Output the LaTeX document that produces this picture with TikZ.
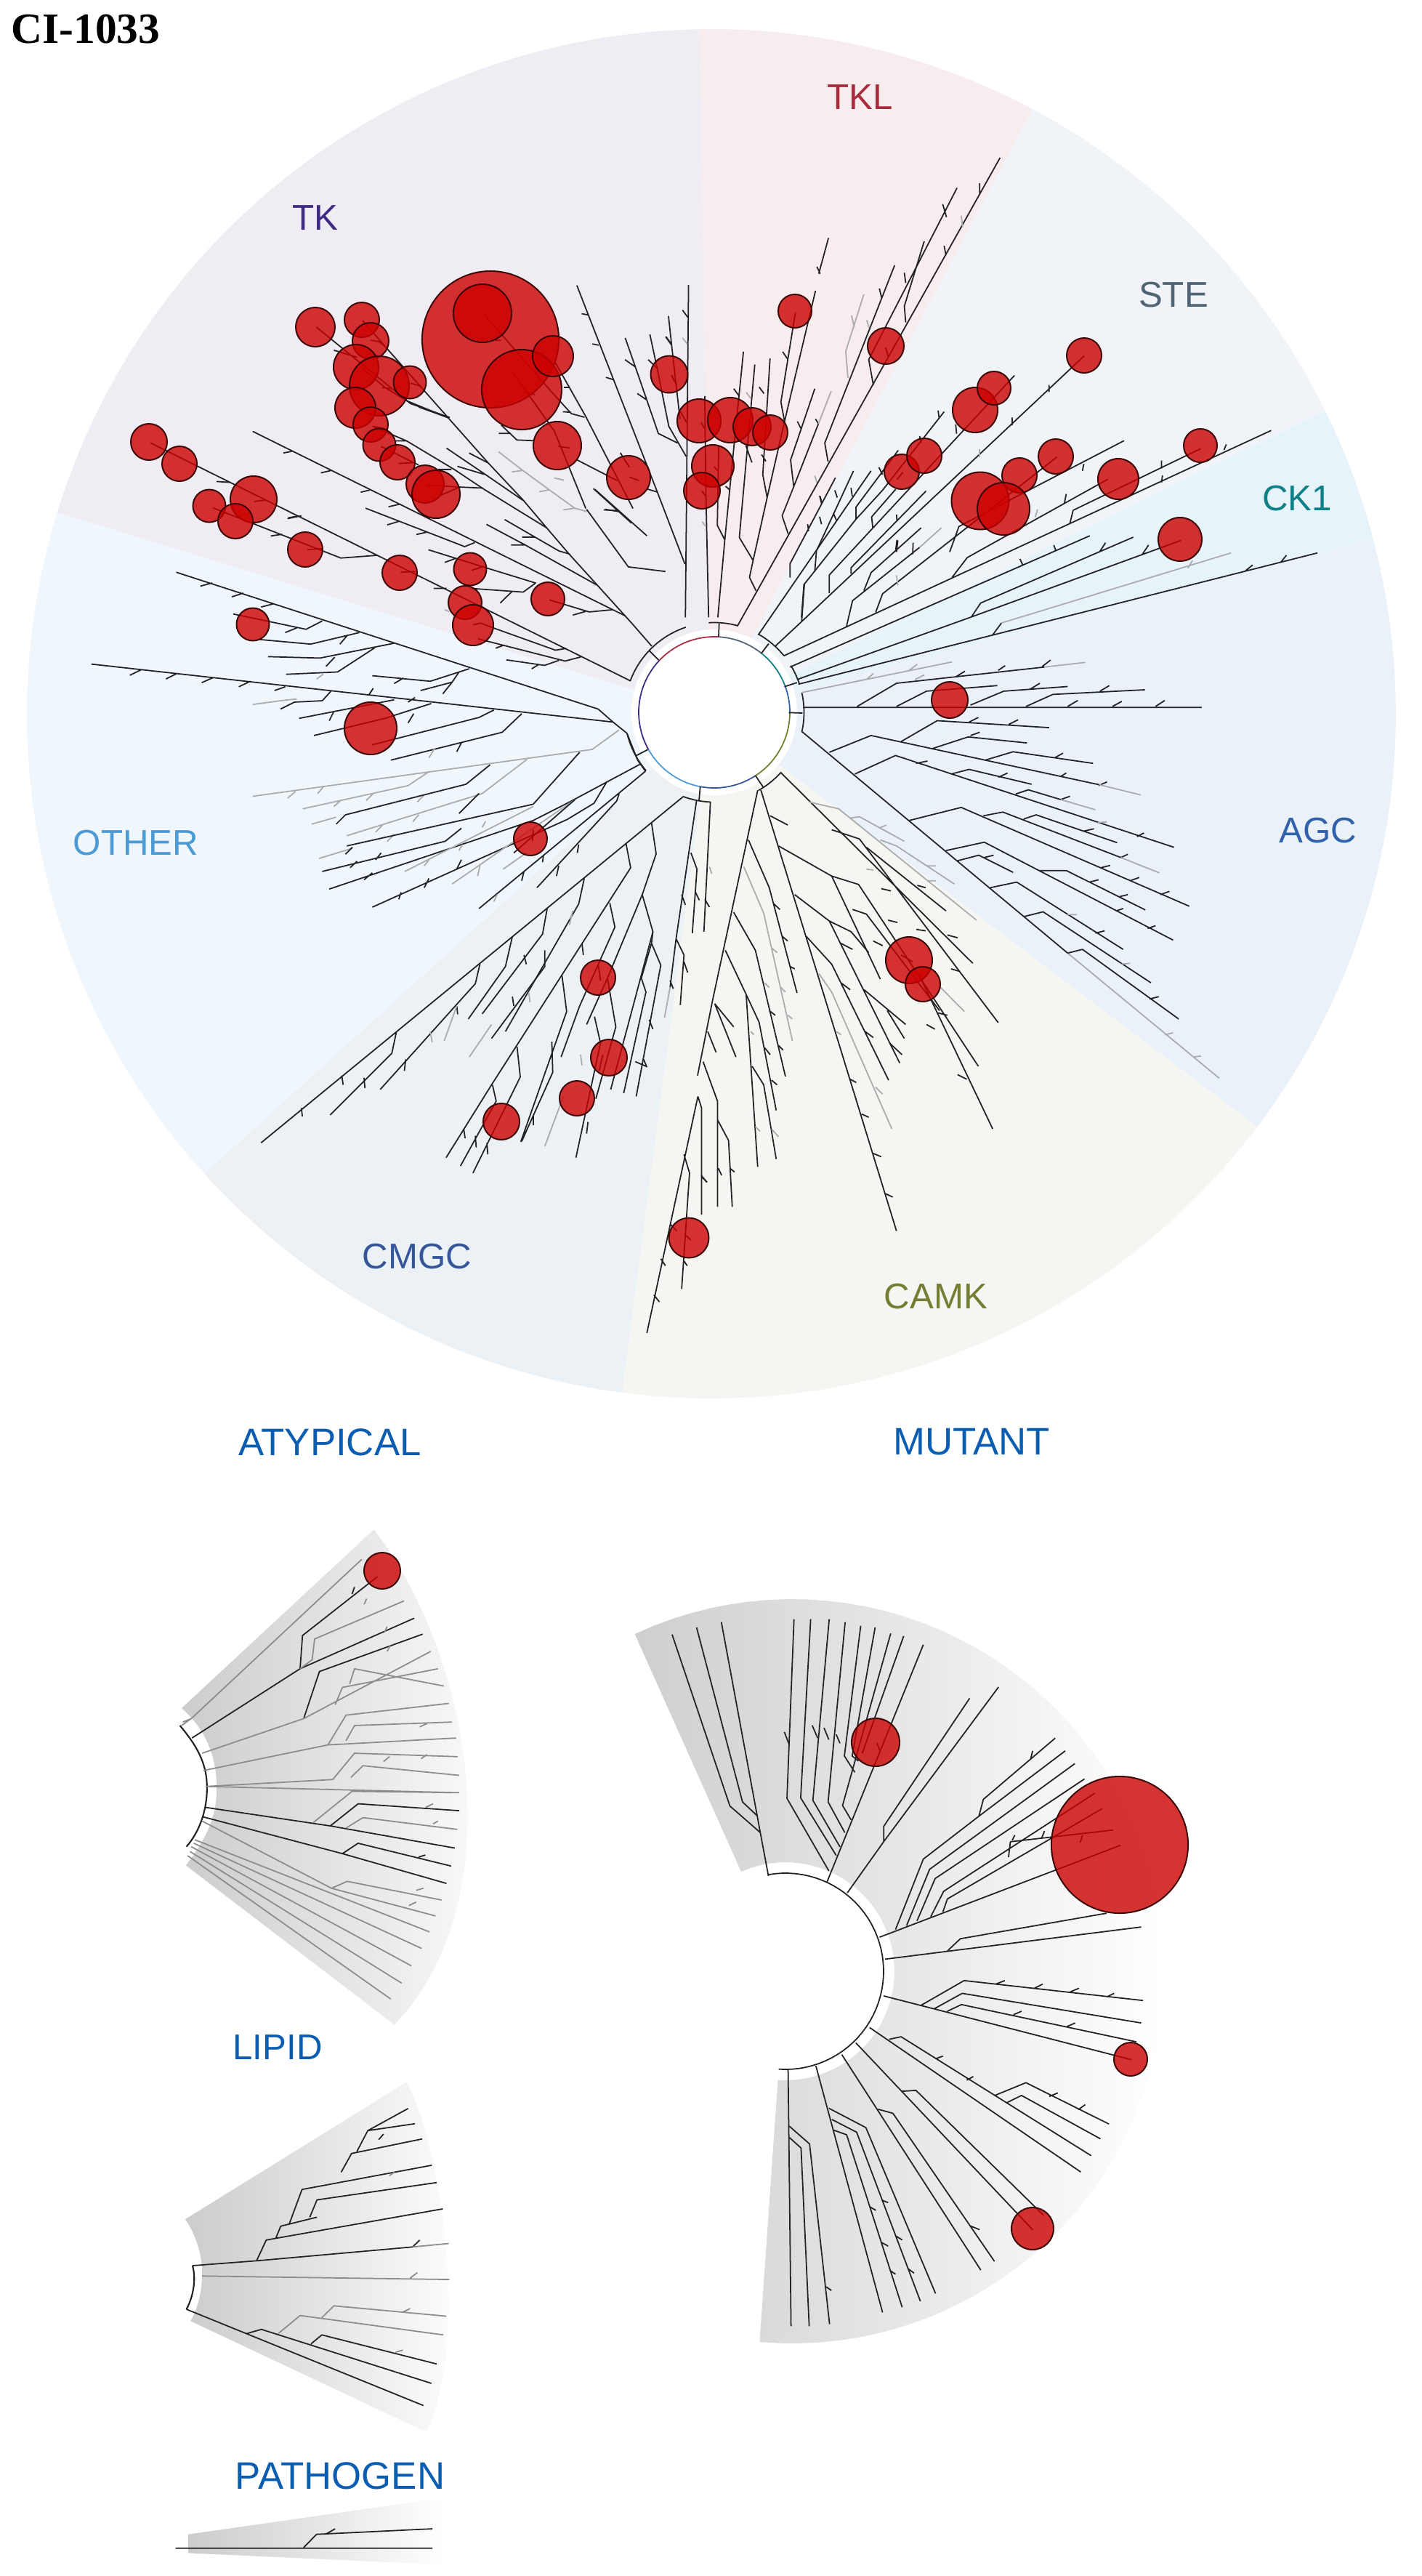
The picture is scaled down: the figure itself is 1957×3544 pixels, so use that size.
\documentclass[tikz,border=0pt]{standalone}
\usepackage{fontspec}
\setmainfont{Liberation Sans}
\newfontfamily\titlefont{Liberation Serif}
\usetikzlibrary{shapes.geometric}
\definecolor{bgtk}{HTML}{EFECF3}
\definecolor{bgtkl}{HTML}{F7ECEE}
\definecolor{bgste}{HTML}{F0F3F7}
\definecolor{bgckone}{HTML}{E6F3F8}
\definecolor{bgagc}{HTML}{EAF1F9}
\definecolor{bgcamk}{HTML}{F5F6F1}
\definecolor{bgcmgc}{HTML}{ECF1F6}
\definecolor{bgother}{HTML}{EFF6FC}
\definecolor{tktext}{HTML}{3F2A84}
\definecolor{tkltext}{HTML}{A82C3B}
\definecolor{stetext}{HTML}{4F6474}
\definecolor{ckonetext}{HTML}{0E8088}
\definecolor{agctext}{HTML}{2F62AB}
\definecolor{camktext}{HTML}{747D32}
\definecolor{cmgctext}{HTML}{35579A}
\definecolor{othertext}{HTML}{4C9BD5}
\definecolor{paneltext}{HTML}{0A5DB0}
\definecolor{ink}{HTML}{222226}
\definecolor{twiggray}{HTML}{ABABAD}
\definecolor{hitred}{HTML}{CC0000}
\definecolor{hitedge}{HTML}{3A0505}
\tikzset{
  brn/.style={draw=ink,line width=.5pt,line join=round},
  brg/.style={draw=twiggray,line width=.5pt,line join=round},
  hit/.style={circle,fill=hitred,fill opacity=.8,draw=hitedge,line width=.55pt,inner sep=0pt},
  fam/.style={font=\fontsize{14}{16}\selectfont,inner sep=0pt},
  pan/.style={font=\fontsize{15}{17}\selectfont,inner sep=0pt,text=paneltext},
  crop/.style n args={4}{shift={(#1,#2)},x=#3cm,y=#4cm},
}
\begin{document}
\begin{tikzpicture}[x=.01cm,y=-.01cm]
  \useasboundingbox (0,0) rectangle (1957,3544);
  \foreach \a/\b/\c in {91/162.9/bgtk,62/91/bgtkl,26.3/62/bgste,14.8/26.3/bgckone,-37.1/14.8/bgagc,-97.5/-37.1/bgcamk,-137.8/-97.5/bgcmgc,162.9/222.2/bgother}
    \fill[\c] (979,982) -- plot[domain=\a:\b,samples=40] ({979+942*cos(\x)},{982-942*sin(\x)}) -- cycle;
  \fill[white] (983,980) circle[radius=114];
  \foreach \a/\b/\c in {136.7/209.6/tktext,86.5/136.7/tkltext,51/86.5/stetext,19.8/51/ckonetext,-.4/19.8/agctext,-56.7/-.4/camktext,-100.3/-56.7/cmgctext,209.6/259.7/othertext}
    \draw[\c,line width=.5pt] plot[domain=\a:\b,samples=24] ({983+104*cos(\x)},{980-104*sin(\x)});
  \foreach \a/\b in {108.5/159.4,74.8/93.5,39.3/60.4,18.2/31.3,-12.5/12.8,-60.5/-41.8,249.5/267.5,193.7/220.5}
    \draw[brn] plot[domain=\a:\b,samples=16] ({983+123.5*cos(\x)},{980-123.5*sin(\x)});
  \begin{scope}[crop={780}{780}{.0033333}{-.0033333}]
    \draw[brn] (340,345)--(380,385) (628,288)--(630,235) (805,357)--(835,317) (900,495)--(952,478)
      (918,602)--(975,604) (780,862)--(812,910) (552,908)--(547,965) (335,755)--(287,780);
  \end{scope}
  \draw[brn] (499,441)--(533,480)--(617,575)--(672,637)--(720,688)--(753,727)--(783,762)--(822,805)--(870,858)--(897,889);
  \begin{scope}[crop={0}{0}{.0063776}{-.0063776}]
    \draw[brn] (325,955)--(1360,1468) (467,1038)--(497,1040) (620,1118)--(650,1112);
    \draw[brn] (460,1095)--(735,1203)--(815,1197);
    \draw[brn] (545,930)--(1349,1328);
    \draw[brn] (682,705)--(885,870)--(970,900);
    \draw[brn] (720,755)--(770,770) (1283,1055)--(1395,1155) (1305,1098)--(1335,1103);
    \draw[brn] (1265,1098)--(1355,1222)--(1435,1232);
  \end{scope}
  \begin{scope}[crop={350}{560}{.0033333}{-.0033333}]
    \draw[brn] (120,190)--(155,183) (275,272)--(315,263) (440,352)--(478,343) (555,412)--(600,402);
    \draw[brn] (460,418)--(870,577)--(912,560) (550,487)--(600,472) (670,527)--(715,517);
    \draw[brn] (140,458)--(185,450) (742,750)--(795,750) (68,533)--(115,526) (220,590)--(280,585) (0,390)--(45,385) (605,683)--(665,680);
    \draw[brn] (720,590)--(960,665)--(1165,728) (900,750)--(1112,765)--(1160,730) (1017,810)--(1065,763) (788,642)--(835,625) (898,675)--(950,658);
    \draw[brn] (905,900)--(935,893)--(980,910)--(1245,1005)--(1290,998) (925,958)--(1285,1050)--(1350,1033) (998,997)--(1030,985);
    \draw[brn] (1042,1045)--(1200,1068)--(1260,1047) (1147,1082)--(1175,1065);
    \draw[brg] (788,838)--(805,845);
    \draw[brn] (1220,797)--(1385,847)--(1480,838) (1317,860)--(1370,845);
    \draw[brn] (490,80)--(630,140)--(830,260)--(950,340)--(1210,500) (585,140)--(630,140) (760,258)--(815,258);
    \draw[brn] (525,163)--(680,240) (597,233)--(660,230) (712,322)--(835,330)--(945,335) (770,365)--(840,335);
    \draw[brn] (795,170)--(950,275)--(1110,385) (840,245)--(950,278) (888,190)--(965,230);
    \draw[brn] (680,0)--(805,45);
    \draw[brn] (1035,465)--(1260,595)--(1305,608) (1108,538)--(1160,538);
    \draw[brn] (960,485)--(1120,570)--(1415,735) (1062,570)--(1120,570);
    \draw[brg] (1010,185)--(1110,262)--(1210,335)--(1325,418)--(1375,432) (1065,268)--(1110,262) (1178,350)--(1220,342) (1240,293)--(1280,302) (1278,425)--(1325,418);
    \draw[brn] (1402,337)--(1560,480) (1445,425)--(1500,428);
  \end{scope}
  \begin{scope}[crop={500}{380}{.0033333}{-.0033333}]
    \draw[brn] (883,38)--(1215,890)--(1330,1190) (903,155)--(930,160) (947,280)--(973,285) (1003,418)--(1035,428);
    \draw[brn] (1083,255)--(1125,375)--(1170,505)--(1220,650)--(1300,690) (1082,345)--(1125,375) (1133,485)--(1170,510);
    \draw[brn] (1185,240)--(1215,380)--(1263,620)--(1335,745);
    \draw[brn] (1262,165)--(1275,285)--(1305,550)--(1310,590) (1250,250)--(1275,285) (1178,345)--(1215,380) (1275,408)--(1290,440);
    \draw[brn] (497,155)--(780,480)--(860,568)--(915,583) (825,560)--(860,563) (545,265)--(570,265) (830,460)--(850,460);
    \draw[brn] (790,350)--(920,580)--(1115,960);
    \draw[brn] (620,400)--(790,640)--(920,960) (660,475)--(710,490) (805,703)--(855,710);
    \draw[brn] (570,615)--(635,677)--(705,680) (560,650)--(610,650);
    \draw[brn] (885,760)--(1050,845) (1100,830)--(1140,845) (1175,880)--(1215,892) (1063,730)--(1100,790);
    \draw[brn] (180,515)--(350,585) (0,385)--(90,460)--(180,515) (78,460)--(120,465) (196,442)--(240,455);
    \draw[brn] (30,265)--(65,270)--(90,290) (38,620)--(90,630);
  \end{scope}
  \begin{scope}[crop={900}{400}{.0033333}{-.0033333}]
    \draw[brn] (143,-24)--(130,1350) (118,80)--(140,110) (50,190)--(72,220) (72,350)--(95,390);
    \draw[brg] (118,195)--(138,220);
    \draw[brn] (226,1350)--(215,850)--(210,435) (195,545)--(210,570) (110,500)--(135,545);
    \draw[brg] (200,955)--(215,975);
    \draw[brn] (264,1350)--(293,1030)--(333,620)--(370,252) (293,1030)--(262,970)--(268,640) (248,727)--(265,745) (296,808)--(315,825) (330,405)--(352,435) (198,828)--(215,850);
    \draw[brg] (382,420)--(400,445);
    \draw[brn] (395,1185)--(422,1240) (395,1185)--(410,1115)--(468,855)--(540,540)--(668,0);
    \draw[brn] (468,855)--(450,760)--(480,280) (435,398)--(455,425) (445,677)--(463,705);
    \draw[brn] (540,540)--(525,460)--(585,90) (532,252)--(553,283);
    \draw[brn] (353,1020)--(410,1115) (353,1020)--(417,305) (380,640)--(405,710);
    \draw[brn] (555,1005)--(530,930)--(578,810)--(680,550) (578,810)--(565,700)--(665,405) (593,540)--(608,570) (668,530)--(680,550);
    \draw[brg] (680,550)--(733,415) (665,765)--(675,795);
    \draw[brg] (802,360)--(793,250)--(825,150)--(868,15) (817,103)--(828,150) (880,122)--(890,155);
    \draw[brn] (958,235)--(968,270);
    \draw[brn] (610,1350)--(620,1215)--(835,945)--(945,825)--(1200,500);
    \draw[brn] (835,945)--(835,895)--(1010,660) (930,730)--(945,760);
    \draw[brn] (905,980)--(900,935)--(1000,820) (1005,780)--(1030,750);
    \draw[brn] (825,745)--(672,1075)--(665,1160) (685,848)--(693,880) (685,935)--(693,965) (748,825)--(758,855) (815,815)--(820,850) (742,920)--(755,950);
    \draw[brn] (725,1250)--(725,1175)--(1491,350) (815,1170)--(815,1145)--(1125,828) (1003,925)--(1005,950);
    \draw[brn] (868,1240)--(898,1165)--(1105,980) (1005,1030)--(1000,1070);
  \end{scope}
  \begin{scope}[crop={960}{0}{.0063585}{-.0063776}]
    \draw[brn] (283,513)--(262,590) (258,575)--(265,590);
    \draw[brn] (86,1350)--(654,340) (610,395)--(610,420) (533,530)--(537,550);
    \draw[brg] (570,465)--(573,490);
    \draw[brn] (282,995)--(275,955)--(426,572) (393,622)--(398,642);
    \draw[brn] (380,830)--(370,775)--(561,405) (530,440)--(538,468);
    \draw[brn] (450,695)--(447,660)--(490,520) (447,588)--(450,610);
    \draw[brn] (131,1369)--(375,1015) (200,1245)--(200,1215)--(298,1030) (238,1130)--(240,1145) (265,1070)--(268,1082);
    \draw[brn] (168,1393)--(225,1340)--(231,1259) (225,1340)--(836,767) (760,830)--(760,845) (680,900)--(680,917);
    \draw[brg] (610,968)--(610,985);
    \draw[brn] (520,885)--(522,900) (480,940)--(483,955) (558,915)--(560,935);
    \draw[brn] (186,1414)--(1240,928) (322,1350)--(335,1295)--(480,1180);
    \draw[brg] (480,1180)--(527,1138);
    \draw[brn] (466,1170)--(465,1195) (430,1190)--(433,1165);
    \draw[brn] (385,1320)--(400,1280)--(777,985) (545,1190)--(565,1135)--(922,950);
    \draw[brg] (430,1240)--(433,1262);
    \draw[brn] (550,1245)--(583,1202)--(887,1033) (797,1065)--(793,1085) (835,1000)--(832,1015);
    \draw[brg] (735,1098)--(730,1115);
    \draw[brn] (805,1128)--(812,1100)--(1088,967) (1003,1040)--(1005,1025) (1003,1010)--(1003,993) (1138,970)--(1143,958);
    \draw[brn] (200,1438)--(848,1155) (697,1205)--(703,1218) (770,1175)--(775,1188);
    \draw[brn] (215,1465)--(592,1330)--(612,1300)--(942,1158) (592,1330)--(1045,1165) (870,1188)--(882,1170) (960,1197)--(975,1175);
    \draw[brn] (218,1475)--(1340,1192) (637,1370)--(657,1343) (1185,1230)--(1200,1218) (1260,1213)--(1273,1197);
    \draw[brg] (657,1343)--(1153,1192) (1060,1225)--(1070,1208);
    \draw[brg] (225,1493)--(550,1427) (365,1465)--(380,1452) (455,1447)--(475,1432);
    \draw[brn] (228,1525)--(1090,1525) (345,1523)--(430,1473)--(750,1438) (560,1458)--(578,1447) (650,1445)--(665,1435) (745,1437)--(763,1423);
    \draw[brg] (750,1438)--(838,1428) (470,1465)--(490,1455);
    \draw[brn] (430,1523)--(495,1490)--(648,1478) (590,1520)--(662,1490)--(800,1480) (720,1485)--(740,1473);
    \draw[brn] (710,1523)--(768,1497)--(967,1487) (870,1490)--(890,1478) (800,1523)--(822,1510) (897,1523)--(917,1512) (990,1523)--(1010,1510);
  \end{scope}
  \begin{scope}[crop={960}{950}{.0063585}{-.0063776}]
    \draw[brn] (225,88)--(800,566);
    \draw[brg] (800,566)--(1128,836) (1010,742)--(1028,738) (1072,790)--(1088,788);
    \draw[brn] (285,133)--(375,97)--(868,203) (785,185)--(797,178) (867,205)--(885,197);
    \draw[brg] (868,203)--(958,225);
    \draw[brn] (440,110)--(518,65)--(760,80) (587,68)--(607,58) (673,73)--(693,63);
    \draw[brn] (508,125)--(585,100)--(712,113) (590,97)--(610,90) (622,150)--(682,132)--(855,157) (772,145)--(790,135);
    \draw[brn] (340,180)--(428,140)--(1030,338) (472,157)--(497,152) (950,315)--(965,307);
    \draw[brn] (548,180)--(587,170)--(722,202) (650,187)--(670,178) (688,223)--(715,214)--(785,235) (785,235)--(805,228);
    \draw[brg] (785,235)--(860,257) (865,285)--(885,283);
    \draw[brn] (458,280)--(570,252)--(1063,465) (872,382)--(892,377) (935,410)--(955,403) (1000,440)--(1020,433);
    \draw[brn] (618,270)--(660,262)--(915,360) (915,360)--(930,353) (705,277)--(732,268)--(907,328) (835,303)--(857,298);
    \draw[brg] (915,360)--(998,393);
    \draw[brn] (537,345)--(620,327)--(1028,538) (905,475)--(920,470) (973,513)--(990,507);
    \draw[brn] (562,367)--(608,355)--(682,392) (620,360)--(640,355) (740,388)--(797,388)--(968,473) (847,413)--(867,408) (910,445)--(930,440);
    \draw[brn] (633,425)--(690,413)--(920,558) (860,523)--(880,518) (707,487)--(747,477)--(980,630) (800,566)--(832,558)--(1040,708) (977,665)--(997,660);
    \draw[brg] (800,483)--(820,483) (915,590)--(935,588);
    \draw[brn] (180,177)--(595,588) (290,300)--(350,320)--(650,716) (412,495)--(432,500) (473,515)--(493,518) (540,527)--(562,533);
    \draw[brn] (365,338)--(537,475) (397,427)--(418,432) (475,420)--(493,425) (548,600)--(565,605);
    \draw[brg] (240,240)--(305,255)--(603,495) (330,275)--(350,272)--(447,325) (395,322)--(430,335)--(555,417) (392,297)--(408,290) (495,378)--(515,378) (497,410)--(515,410) (365,385)--(380,387);
    \draw[brn] (137,215)--(430,1165) (380,998)--(397,1005) (407,1085)--(422,1092) (355,913)--(370,920) (330,838)--(343,845);
    \draw[brn] (157,270)--(195,290) (175,335)--(290,400)--(395,622) (290,400)--(348,418)--(607,810) (335,472)--(365,482)--(523,690) (520,695)--(540,700) (495,720)--(513,730);
    \draw[brn] (480,615)--(638,945) (562,828)--(582,838) (380,540)--(400,550) (440,570)--(465,585);
    \draw[brg] (525,640)--(577,692);
    \draw[brn] (210,440)--(285,497)--(437,803) (285,497)--(332,520)--(370,565) (310,545)--(335,558) (360,645)--(450,720) (410,690)--(447,750);
    \draw[brn] (235,530)--(290,590)--(413,840) (310,630)--(330,645) (362,735)--(380,748) (415,760)--(442,785);
    \draw[brg] (262,610)--(290,650)--(420,945) (300,735)--(310,742) (385,855)--(400,870);
    \draw[brn] (130,215)--(32,670)--(0,830) (110,322)--(155,425)--(215,652) (165,460)--(178,472) (183,530)--(195,540) (200,595)--(210,600);
    \draw[brg] (100,380)--(143,480)--(205,755) (160,555)--(172,565) (145,630)--(155,640) (180,640)--(190,650) (195,700)--(205,708);
    \draw[brn] (78,478)--(125,560)--(190,832) (155,690)--(168,700) (175,765)--(185,775);
    \draw[brn] (60,560)--(105,655)--(133,715)--(170,905) (105,655)--(130,1027) (145,770)--(157,785) (160,840)--(172,850) (118,810)--(143,850)--(170,1010);
    \draw[brg] (115,735)--(122,742) (125,940)--(135,950) (160,945)--(175,962);
    \draw[brn] (37,675)--(78,725) (22,735)--(40,780) (37,675)--(83,790) (12,800)--(43,885)--(43,1113) (43,925)--(67,970)--(75,1113) (45,1030)--(52,1045) (70,1030)--(80,1038);
    \draw[brn] (8,1045)--(20,1060);
  \end{scope}
  \begin{scope}[crop={0}{950}{.0063776}{-.0063776}]
    \draw[brn] (1505,875)--(1395,1385) (1505,875)--(1513,900)--(1513,1130) (1475,1000)--(1487,1040)--(1470,1290) (1515,1050)--(1525,1060) (1445,1150)--(1460,1165) (1480,1175)--(1490,1185) (1475,1230)--(1482,1240) (1425,1225)--(1435,1240) (1410,1303)--(1422,1318);
    \draw[brn] (1473,229)--(563,975) (650,900)--(652,918) (737,830)--(740,850) (855,735)--(845,782)--(712,915) (785,835)--(787,857);
    \draw[brn] (1350,330)--(1360,382)--(1060,850)--(962,1007) (1260,405)--(1248,460)--(1090,735) (1180,470)--(1170,525)--(1040,697) (1105,530)--(1090,595)--(1010,708) (1035,590)--(1025,632)--(820,860);
    \draw[brn] (1255,545)--(1258,570) (1175,560)--(1175,595)--(1060,750) (1130,570)--(1135,590) (1105,660)--(1108,680) (985,680)--(987,698) (875,795)--(872,820);
    \draw[brg] (985,680)--(958,755) (1060,720)--(1012,790) (1235,475)--(1228,505) (1140,650)--(1143,672) (928,735)--(932,758);
    \draw[brn] (1405,285)--(1415,352)--(1385,440)--(1408,520)--(1360,700)--(1317,860);
    \draw[brn] (1408,520)--(1405,545)--(1425,592)--(1372,875) (1405,545)--(1383,620)--(1393,650)--(1345,868) (1385,440)--(1310,620)--(1265,720);
    \draw[brn] (1282,703)--(1295,760)--(1242,1007) (1310,620)--(1328,725)--(1285,880) (1370,800)--(1393,810) (1400,710)--(1408,730) (1388,795)--(1395,812) (1268,930)--(1265,955);
    \draw[brn] (1315,458)--(1326,510)--(1250,680)--(1210,790) (1290,590)--(1295,625) (1300,785)--(1292,820);
    \draw[brn] (1212,615)--(1222,692)--(1123,973) (1190,757)--(1192,823)--(1125,972) (1115,768)--(1122,833)--(1020,1040) (1062,850)--(1070,885)--(993,1025) (1150,915)--(1150,937) (1000,945)--(1003,965) (1025,960)--(1027,985) (1050,975)--(1052,1000);
    \draw[brg] (1215,875)--(1175,982) (1252,785)--(1255,808);
    \draw[brn] (1502,238)--(1458,535) (1458,535)--(1445,640) (1490,350)--(1503,385)--(1493,523) (1532,240)--(1518,520) (1458,535)--(1475,570)--(1467,678) (1470,440)--(1478,462) (1500,435)--(1508,452) (1520,450)--(1530,467) (1475,585)--(1483,608) (1445,625)--(1452,643);
    \draw[brg] (1445,640)--(1433,705) (1530,380)--(1535,395);
    \draw[brn] (1352,92)--(1322,68)--(1290,40)--(380,-255) (432,-225)--(458,-232) (500,-202)--(525,-210) (563,-180)--(590,-187);
    \draw[brn] (503,-165)--(660,-132)--(695,-150) (615,-125)--(640,-135) (560,-110)--(670,-100)--(775,-125) (733,-100)--(750,-120);
    \draw[brn] (578,-73)--(690,-70)--(850,-102) (703,-52)--(722,-72) (617,-35)--(728,-40)--(808,-92);
    \draw[brg] (683,-25)--(697,-35);
    \draw[brn] (803,-32)--(928,-20)--(1012,-47) (850,-15)--(870,-27) (907,0)--(975,-18)--(990,-40) (955,7)--(975,-18);
    \draw[brn] (1352,92)--(1375,150)--(1392,174) (1322,68)--(197,-57) (280,-33)--(305,-45) (358,-25)--(382,-37) (435,-17)--(460,-28) (515,-8)--(540,-20) (592,0)--(615,-8) (695,22)--(715,0) (795,10)--(805,-5) (880,25)--(895,15);
    \draw[brg] (545,30)--(605,22)--(640,18);
    \draw[brn] (605,40)--(635,25)--(695,22) (645,60)--(850,20) (677,97)--(830,60)--(930,28) (710,65)--(720,45) (880,70)--(892,50) (803,117)--(1033,58)--(1065,42) (843,150)--(1083,90)--(1125,50) (985,132)--(995,113);
    \draw[brg] (925,145)--(937,125);
    \draw[brg] (1335,85)--(1277,127)--(545,228) (620,232)--(637,218) (685,222)--(697,208) (653,255)--(880,205)--(925,175) (720,250)--(735,237) (790,237)--(805,222);
    \draw[brg] (672,288)--(725,273) (748,313)--(1040,222)--(1137,148) (810,305)--(825,290) (890,283)--(903,268) (900,240)--(915,225) (688,362)--(760,340) (835,325)--(850,310);
    \draw[brn] (725,288)--(745,268)--(1005,202)--(1057,160) (1250,133)--(1150,245)--(748,335) (745,353)--(760,338) (695,390)--(960,325)--(995,297) (755,382)--(770,368) (810,365)--(822,350) (990,265)--(1033,222);
    \draw[brn] (1382,158)--(1223,243)--(1150,280)--(710,428) (785,408)--(803,393) (1309,196)--(1281,243)--(1223,278)--(803,467) (860,450)--(865,435) (915,425)--(925,405) (985,385)--(995,365);
    \draw[brg] (873,390)--(1150,250) (915,378)--(925,365) (990,345)--(997,332) (1040,295)--(1047,282) (975,417)--(1145,300)--(1240,235) (1030,400)--(1035,378) (1085,385)--(1135,350);
    \draw[brn] (1108,350)--(1240,235) (1148,325)--(1150,300) (1392,174)--(1033,470) (1125,410)--(1130,390) (1170,370)--(1172,355) (1335,223)--(1330,238)--(1158,425) (1200,400)--(1205,378) (1245,350)--(1248,332);
    \draw[brg] (1065,455)--(1072,440);
  \end{scope}
  \begin{scope}[crop={200}{2050}{.0033333}{-.0095281}]
    \shade[left color=black!20,right color=white] (150,315)--(945,57) .. controls (1350,240) and (1528,590) .. (1030,772)--(168,542) .. controls (260,500) and (295,470) .. (295,430) .. controls (295,385) and (250,345) .. (150,315)--cycle;
    \draw[brn,line width=.6pt] (143,340) .. controls (215,370) and (255,395) .. (255,430) .. controls (255,465) and (220,495) .. (170,515);
    \draw[brg,draw=black!45] (155,335)--(190,330)--(895,100) (150,340)--(190,330);
    \draw[brn] (193,358)--(640,258)--(650,210)--(960,125) (855,150)--(865,140) (640,258)--(1112,185) (655,330)--(720,262)--(1147,208);
    \draw[brg,draw=black!45] (690,245)--(700,215)--(1070,160) (905,165)--(915,157) (640,258)--(690,245) (990,205)--(1000,197) (1000,233)--(1012,225);
    \draw[brg,draw=black!45] (235,380)--(655,330)--(1180,233) (785,310)--(815,285)--(1210,258) (845,280)--(865,258)--(1235,283) (755,368)--(830,325)--(1255,308) (830,362)--(865,340)--(1268,335) (1135,342)--(1165,337);
    \draw[brg,draw=black!45] (240,405)--(755,368)--(1285,358) (250,428)--(775,418)--(865,380)--(1292,385) (850,415)--(900,398)--(1298,412) (985,392)--(1010,385) (1140,388)--(1165,382);
    \draw[brg,draw=black!45] (255,428)--(1298,437) (695,480)--(855,435)--(1298,437);
    \draw[brn] (245,458)--(765,485)--(880,453)--(1298,463) (765,485)--(1280,517) (1130,530)--(1158,527) (240,472)--(815,525)--(880,510)--(1265,543) (815,525)--(1245,568);
    \draw[brg,draw=black!45] (1160,458)--(1190,453) (830,488)--(900,473)--(1290,490) (1190,482)--(1210,478);
    \draw[brg,draw=black!45] (235,478)--(770,575)--(835,565)--(1225,592) (1120,578)--(1150,575) (770,575)--(1200,615) (1090,600)--(1120,595) (205,505)--(1175,638) (200,510)--(1143,662) (190,515)--(1100,687) (185,522)--(1060,712) (175,528)--(1015,735);
    \shade[left color=black!20,right color=white] (165,1053)--(1080,855) .. controls (1230,950) and (1340,1240) .. (1160,1360)--(187,1200) .. controls (220,1180) and (235,1155) .. (235,1130) .. controls (235,1100) and (200,1070) .. (165,1053)--cycle;
    \draw[brn,line width=.6pt] (195,1120) .. controls (208,1135) and (205,1160) .. (170,1183);
    \draw[brn] (195,1120)--(460,1113)--(1105,1093)--(1135,1083) (460,1113)--(500,1083)--(1230,1038) (540,1080)--(560,1063)--(710,1050) (595,1060)--(648,1010)--(1185,975) (680,1050)--(710,1025)--(1205,1000) (810,985)--(853,958)--(1145,937) (875,955)--(920,925)--(1115,915) (920,925)--(1087,893) (965,938)--(985,930);
    \draw[brg,draw=black!45] (1105,1093)--(1255,1088) (235,1135)--(1257,1140) (1095,1138)--(1125,1130) (1010,990)--(1030,985);
    \draw[brn] (170,1183)--(1150,1322) (420,1218)--(480,1212)--(1183,1290) (685,1233)--(730,1220)--(1205,1262);
    \draw[brg,draw=black!45] (550,1218)--(640,1192)--(1232,1220) (730,1195)--(780,1178)--(1245,1193) (1065,1187)--(1095,1182) (1035,1245)--(1065,1242);
    \shade[left color=black!20,right color=white] (178,1508)--(1240,1455)--(1240,1552)--(178,1535)--cycle;
    \draw[brn] (125,1528)--(1187,1528) (655,1527)--(708,1508)--(1187,1500) (750,1507)--(785,1500);
  \end{scope}
  \shade[left color=black!19,right color=white] plot[domain=-95:115,samples=70] ({1090+512*cos(\x)},{2712-512*sin(\x)}) -- plot[domain=114:-94,samples=40] ({1081+150*cos(\x)},{2712-150*sin(\x)}) -- cycle;
  \draw[brn] plot[domain=-94:100,samples=50] ({1081+135*cos(\x)},{2712-135*sin(\x)});
  \begin{scope}[crop={850}{2170}{.0051020}{-.0070153}]
    \draw[brn] (407,585)--(385,500)--(280,88) (385,500)--(303,448)--(147,112) (378,468)--(337,440)--(213,98);
    \draw[brn] (565,597)--(825,132) (570,575)--(457,433)--(476,82) (590,545)--(494,432)--(521,82) (600,528)--(527,437)--(571,82) (613,500)--(568,440)--(614,88) (630,475)--(607,447)--(737,110) (640,382)--(612,350)--(656,95) (650,360)--(633,350)--(695,98) (660,345)--(772,115);
    \draw[brn] (450,303)--(463,328) (525,290)--(540,315) (557,295)--(570,318) (590,308)--(600,325) (700,325)--(708,340);
    \draw[brn] (620,618)--(718,518)--(1028,215) (718,518)--(718,488)--(950,237);
    \draw[brn] (707,705)--(1357,525) (750,690)--(825,552)--(975,468)--(987,435)--(1181,315) (975,468)--(1208,340) (780,682)--(842,572)--(1234,365) (808,673)--(857,590)--(1260,395) (845,665)--(880,615)--(1288,423) (878,655)--(890,630)--(1308,453) (1055,548)--(1060,518)--(1338,495);
    \draw[brn] (1115,355)--(1120,340) (1065,515)--(1072,505) (1145,510)--(1152,497) (1248,520)--(1255,505);
    \draw[brn] (722,748)--(1413,685) (890,732)--(925,708)--(1320,658);
    \draw[brn] (718,820)--(1387,945) (820,838)--(935,790)--(1418,829) (1020,797)--(1045,790) (1125,805)--(1147,797) (1222,812)--(1245,805) (1320,822)--(1340,815) (855,845)--(930,815)--(1413,873) (890,850)--(928,837)--(1400,910) (1068,857)--(1090,850) (1213,880)--(1235,873);
    \draw[brn] (680,882)--(1250,1165) (733,905)--(765,900)--(1278,1133) (858,943)--(878,938) (942,985)--(960,978) (1018,1015)--(1102,990)--(1326,1071) (1048,1030)--(1090,1015)--(1303,1100) (1165,1017)--(1188,1010) (1243,1043)--(1262,1033);
    \draw[brn] (643,912)--(1120,1278) (765,1007)--(805,1005)--(1150,1250);
    \draw[brn] (605,935)--(980,1357) (703,1042)--(743,1050)--(1017,1340) (950,1270)--(977,1278);
    \draw[brn] (535,957)--(715,1440) (570,1040)--(670,1078)--(858,1403) (578,1062)--(645,1087)--(817,1418) (583,1083)--(618,1092)--(768,1430) (680,1233)--(697,1240) (713,1220)--(730,1225) (750,1290)--(768,1298) (712,1303)--(730,1310) (785,1355)--(800,1363) (735,1358)--(750,1365);
    \draw[brn] (460,963)--(468,1467) (463,1075)--(518,1110)--(572,1463) (463,1097)--(495,1118)--(517,1467) (563,1390)--(577,1397);
  \end{scope}
  \foreach \n/\cx/\cy/\rd in {a/434/450/27,b/498/440/24,c/510/469/25,d/490/505/31,e/522/531/41,f/564/526/22.5,g/489/561/28,h/510/584/24,i/522/612/22.5,j/547/636/24,k/585/666/26,l/600/680/33,m/675/467/94,n/664/431/40,o/718/536/55,p/761/490/28,q/767/613/33,r/865/657/30,s/921/515/25.5,t/205/608/25,u/247/638/24,v/288/696/22.5,w/349/687/32,x/324/717/24,y/420/756/24,z/550/788/24,aa/647/783/22.5,ab/640/829/23,ac/651/860/28,ad/754/824/23,ae/348/859/22.5,af/1094/428/23,ag/1219/476/25,ah/962/579/30,ai/1005/578/31,aj/1035/587/26,ak/1060/595/24,al/981/641/29,am/966/675/25,an/1241/649/24,ao/1272/627/24,ap/1342/564/31,aq/1368/534/23,ar/1492/489/24,as/1453/628/24,at/1403/654/24,au/1349/689/39.5,av/1381/700/36,aw/1539/659/28,ax/1652/613/23,ay/1624/742/30,az/1307/963/25,ba/510/1002/36,bb/730/1154/23,bc/823/1345/24,bd/838/1455/25,be/794/1511/24,bf/690/1543/25,bg/948/1703/27.5,bh/1251/1321/32,bi/1270/1354/24,bj/526/2161/25,bk/1205/2397/33,bl/1541/2538/94,bm/1556/2833/23,bn/1421/3066/29}
    \node[hit,minimum size={\rd*.02cm}] (hit\n) at (\cx,\cy) {};
  \node[inner sep=0pt,anchor=west,font=\titlefont\bfseries\fontsize{16.9}{18}\selectfont] (title) at (15,40) {CI-1033};
  \node[fam,text=tktext] (tk) at (434,300) {TK};
  \node[fam,text=tkltext] (tkl) at (1184,134) {TKL};
  \node[fam,text=stetext] (ste) at (1615,406) {STE};
  \node[fam,text=ckonetext] (ckone) at (1785,686) {CK1};
  \node[fam,text=agctext] (agc) at (1814,1143) {AGC};
  \node[fam,text=camktext] (camk) at (1288,1784) {CAMK};
  \node[fam,text=cmgctext] (cmgc) at (574,1729) {CMGC};
  \node[fam,text=othertext] (other) at (187,1160) {OTHER};
  \node[pan] (atypical) at (454,1984) {ATYPICAL};
  \node[pan] (mutant) at (1337,1984) {MUTANT};
  \node[fam,text=paneltext] (lipid) at (382,2817) {LIPID};
  \node[pan] (pathogen) at (468,3406) {PATHOGEN};
\end{tikzpicture}
\end{document}
